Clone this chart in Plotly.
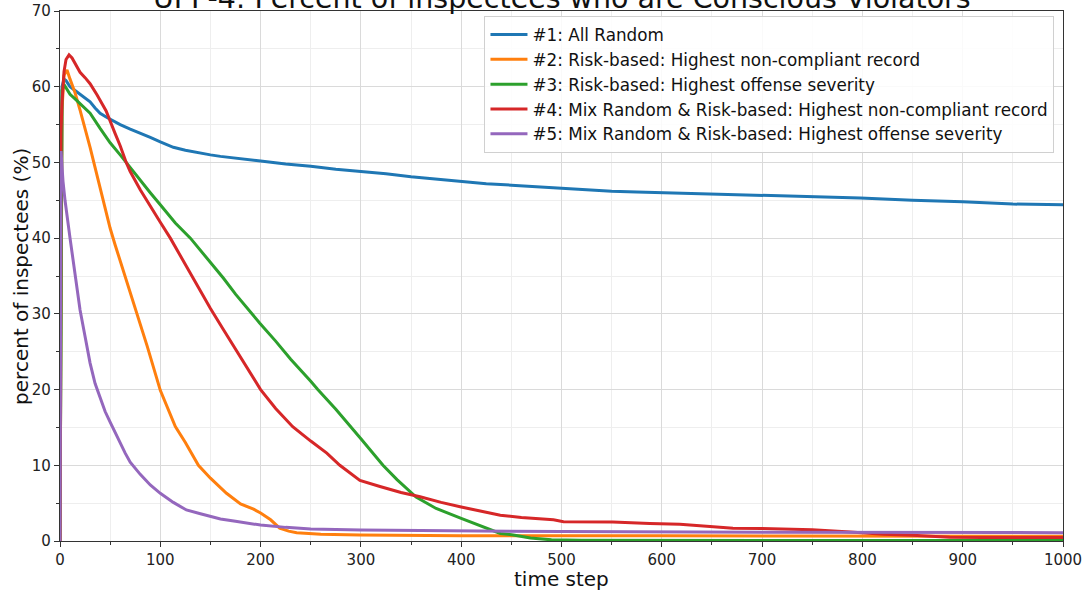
import plotly.graph_objects as go

# ---- data ----
names = [
    "#1: All Random",
    "#2: Risk-based: Highest non-compliant record",
    "#3: Risk-based: Highest offense severity",
    "#4: Mix Random & Risk-based: Highest non-compliant record",
    "#5: Mix Random & Risk-based: Highest offense severity",
]
colors = ["#1f77b4", "#ff7f0e", "#2ca02c", "#d62728", "#9467bd"]

t1 = [0, 2, 4, 6, 8, 10, 15, 20, 25, 30, 35, 40, 46, 50, 60, 70, 80, 90, 100, 113, 125,
      140, 150, 160, 175, 190, 200, 225, 250, 275, 300, 325, 350, 375, 400, 425, 450, 475,
      498, 525, 550, 575, 600, 650, 700, 750, 798, 850, 900, 950, 1000]
v1 = [0, 60.0, 61.0, 60.8, 60.4, 60.0, 59.5, 59.0, 58.5, 58.0, 57.2, 56.5, 56.0, 55.7,
      55.0, 54.4, 53.9, 53.3, 52.7, 52.0, 51.6, 51.2, 51.0, 50.8, 50.6, 50.4, 50.2, 49.8,
      49.5, 49.1, 48.8, 48.5, 48.1, 47.8, 47.5, 47.2, 47.0, 46.8, 46.6, 46.4, 46.2, 46.1,
      46.0, 45.8, 45.6, 45.5, 45.3, 45.0, 44.8, 44.5, 44.4]

t2 = [0, 2, 4, 7, 10, 15, 20, 25, 30, 35, 40, 45, 50, 55, 60, 66, 76, 87, 100, 108, 115,
      125, 138, 150, 166, 180, 193, 200, 210, 219, 228, 236, 260, 299, 400, 600, 800, 1000]
v2 = [0, 57.0, 61.5, 62.2, 61.0, 59.2, 56.9, 54.5, 52.0, 49.3, 46.5, 43.9, 41.3, 39.1,
      37.0, 34.5, 30.1, 25.7, 19.9, 17.2, 15.1, 13.0, 10.0, 8.3, 6.3, 4.9, 4.2, 3.7, 2.8,
      1.7, 1.3, 1.1, 0.9, 0.8, 0.7, 0.68, 0.65, 0.62]

t3 = [0, 2, 4, 7, 10, 15, 20, 30, 40, 50, 60, 70, 80, 90, 100, 115, 130, 140, 150, 163,
      175, 191, 199, 215, 230, 250, 257, 275, 290, 300, 322, 336, 355, 375, 400, 420, 439,
      452, 469, 490, 520, 700, 1000]
v3 = [0, 59.5, 60.3, 59.7, 59.0, 58.4, 57.8, 56.5, 54.5, 52.6, 51.0, 49.3, 47.6, 46.0,
      44.4, 42.0, 40.0, 38.4, 36.8, 34.7, 32.6, 30.0, 28.8, 26.4, 24.0, 21.1, 20.0, 17.4,
      15.1, 13.5, 10.0, 8.1, 5.8, 4.3, 3.0, 2.0, 1.0, 0.8, 0.4, 0.15, 0.1, 0.06, 0.05]

t4 = [0, 1, 2, 4, 6, 9, 12, 16, 20, 25, 30, 37, 46, 55, 60, 66, 70, 80, 90, 100, 110,
      125, 133, 150, 163, 175, 186, 200, 215, 232, 250, 266, 279, 299, 319, 340, 359, 380,
      400, 420, 439, 460, 492, 502, 551, 588, 618, 648, 671, 700, 750, 788, 821, 850, 887,
      920, 1000]
v4 = [0, 54.0, 58.0, 62.0, 63.6, 64.2, 63.8, 62.8, 61.9, 61.2, 60.4, 58.9, 56.8, 53.8,
      52.2, 50.0, 48.8, 46.4, 44.2, 42.1, 40.0, 36.5, 34.8, 30.7, 27.9, 25.3, 23.0, 20.0,
      17.5, 15.1, 13.2, 11.6, 10.0, 8.0, 7.2, 6.4, 5.85, 5.1, 4.5, 3.9, 3.4, 3.1, 2.8,
      2.55, 2.5, 2.3, 2.2, 1.9, 1.7, 1.65, 1.5, 1.2, 0.9, 0.75, 0.5, 0.45, 0.45]

t5 = [0, 1, 3, 5, 10, 15, 20, 25, 30, 35, 40, 45, 50, 55, 60, 65, 70, 80, 90, 100, 113,
      126, 140, 150, 160, 175, 200, 225, 250, 300, 400, 500, 700, 1000]
v5 = [0, 51.5, 47.5, 45.0, 40.0, 35.0, 30.5, 27.0, 23.5, 20.8, 18.8, 17.1, 15.7, 14.3,
      13.0, 11.6, 10.4, 8.8, 7.4, 6.3, 5.1, 4.1, 3.6, 3.3, 2.9, 2.6, 2.1, 1.8, 1.6, 1.45,
      1.35, 1.25, 1.15, 1.1]

xs = [t1, t2, t3, t4, t5]
ys = [v1, v2, v3, v4, v5]

title_text = "UPF-4: Percent of inspectees who are Conscious Violators"
x_title = "time step"
y_title = "percent of inspectees (%)"

FONT = "DejaVu Sans"

fig = go.Figure()
for i in range(5):
    fig.add_trace(go.Scatter(
        x=xs[i], y=ys[i], mode="lines", name=names[i],
        line=dict(color=colors[i], width=3),
        legendgroup=f"g{i}",
    ))

axis_common = dict(
    showline=True, linecolor="#333333", linewidth=1.2, mirror=True,
    ticks="outside", ticklen=5, tickcolor="#333333",
    showgrid=True, gridcolor="#dadada", gridwidth=1,
    zeroline=False, automargin=False,
    tickfont=dict(family=FONT, size=15, color="#222222"),
)

fig.update_layout(
    width=1090, height=591,
    paper_bgcolor="white", plot_bgcolor="white",
    margin=dict(l=60, r=27, t=11, b=50),
    font=dict(family=FONT, color="#111111"),
    xaxis=dict(range=[0, 1000], dtick=100, tick0=0,
               minor=dict(dtick=50, ticks="outside", ticklen=3, showgrid=True,
                          gridcolor="#eeeeee", tickcolor="#333333"),
               **axis_common),
    yaxis=dict(range=[0, 70], dtick=10, tick0=0,
               minor=dict(dtick=5, ticks="outside", ticklen=3, showgrid=True,
                          gridcolor="#eeeeee", tickcolor="#333333"),
               **axis_common),
    legend=dict(x=0.9915, xanchor="right", y=0.9905, yanchor="top",
                bgcolor="rgba(255,255,255,0.85)", bordercolor="#d0d0d0", borderwidth=1,
                font=dict(family=FONT, size=16.8, color="#111111"),
                traceorder="grouped", tracegroupgap=0, itemwidth=37),
    showlegend=True,
    annotations=[
        dict(text=title_text, xref="paper", yref="paper", x=0.5, y=1.024,
             xanchor="center", yanchor="middle", showarrow=False,
             font=dict(family=FONT, size=28.5, color="#111111")),
        dict(text=x_title, xref="paper", yref="paper", x=0.5, y=-0.072,
             xanchor="center", yanchor="middle", showarrow=False,
             font=dict(family=FONT, size=20, color="#111111")),
        dict(text=y_title, xref="paper", yref="paper", x=-0.039, y=0.5,
             xanchor="center", yanchor="middle", textangle=-90, showarrow=False,
             font=dict(family=FONT, size=20, color="#111111")),
    ],
)

fig.write_html("out.html", config={"displayModeBar": False},
               post_script="document.body.style.margin='0px';document.body.style.overflow='hidden';")
